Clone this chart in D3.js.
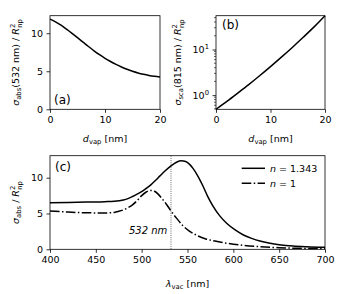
<!DOCTYPE html>
<html>
<head>
<meta charset="utf-8">
<script src="https://cdn.jsdelivr.net/npm/d3@7"></script>
<style>
  body { margin: 0; background: #fff; }
  svg { font-family: "DejaVu Sans", sans-serif; }
</style>
</head>
<body>
<div id="chart-area"></div>
<script>
// panel (a): absorption at 532 nm vs vapour layer thickness
var dA = [0, 1, 2, 3, 4, 5, 6, 7, 8, 9, 10, 11, 12, 13, 14, 15, 16, 17, 18, 19, 20];
var absA = [11.85, 11.5, 11.05, 10.53, 9.98, 9.41, 8.83, 8.25, 7.69, 7.17, 6.7, 6.28, 5.9, 5.56, 5.26, 5.0, 4.78, 4.6, 4.45, 4.33, 4.23];

// panel (b): scattering at 815 nm (log)
var dB = [0, 2, 4, 6, 8, 10, 12, 14, 16, 18, 20];
var scaB = [0.49, 0.73, 1.11, 1.7, 2.66, 4.22, 6.8, 11.1, 18.5, 31.3, 55];

// panel (c): spectra
var lamSolid = [400, 420, 440, 460, 470, 480, 485, 490, 495, 500, 505, 510, 515, 520, 526, 532, 538, 543, 548, 552, 556, 561, 567, 572, 578, 585, 593, 602, 611, 620, 629, 640, 650, 665, 680, 700];
var absSolid = [6.5, 6.55, 6.6, 6.65, 6.7, 6.88, 7.08, 7.37, 7.7, 8.05, 8.5, 9.0, 9.6, 10.25, 11.0, 11.65, 12.15, 12.35, 12.25, 11.9, 11.3, 10.3, 8.8, 7.4, 6.0, 4.7, 3.6, 2.7, 2.0, 1.52, 1.15, 0.85, 0.65, 0.45, 0.35, 0.28];
var lamDash = [400, 420, 440, 460, 470, 475, 480, 485, 490, 495, 500, 505, 510, 514, 518, 522, 527, 532, 538, 545, 552, 560, 570, 580, 593, 611, 629, 650, 665, 680, 700];
var absDash = [5.36, 5.2, 5.1, 5.07, 5.15, 5.3, 5.5, 5.8, 6.2, 6.8, 7.5, 8.0, 8.22, 8.1, 7.7, 7.1, 6.3, 5.35, 4.35, 3.3, 2.55, 1.95, 1.45, 1.15, 0.85, 0.55, 0.36, 0.22, 0.16, 0.12, 0.1];

var legendLabels = ["1.343", "1"];

var fs = 9.5;

var svg = d3.select("#chart-area")
    .append("svg")
    .attr("width", 343)
    .attr("height", 294);

function drawAxes(g, x, y, w, h, xTicks, yTicks, yFmt) {
    var xa = g.append("g")
        .attr("transform", `translate(0, ${h})`)
        .call(d3.axisBottom(x).tickValues(xTicks).tickSize(3.5).tickPadding(3.5).tickFormat(d3.format("d")));
    var ya = g.append("g")
        .call(d3.axisLeft(y).tickValues(yTicks).tickSize(3.5).tickPadding(3.5).tickFormat(yFmt || d3.format("d")));
    [xa, ya].forEach(a => {
        a.select(".domain").remove();
        a.selectAll("line").attr("stroke", "#000").attr("stroke-width", 0.8);
        a.selectAll("text").attr("font-size", fs + "px").attr("fill", "#000")
            .attr("font-family", "DejaVu Sans");
    });
    g.append("rect")
        .attr("width", w)
        .attr("height", h)
        .attr("fill", "none")
        .attr("stroke", "#000")
        .attr("stroke-width", 0.8);
    return { xa: xa, ya: ya };
}

function xLabel(g, cx, cy, sym, sub) {
    var t = g.append("text")
        .attr("x", cx).attr("y", cy)
        .attr("text-anchor", "middle")
        .attr("font-size", fs + "px");
    t.append("tspan").attr("font-style", "italic").text(sym);
    t.append("tspan").attr("font-size", "6.8px").attr("dy", 2).text(sub);
    t.append("tspan").attr("dy", -2).text(" [nm]");
}

function yLabel(g, cx, cy, sub, mid) {
    var t = g.append("text")
        .attr("transform", `translate(${cx}, ${cy}) rotate(-90)`)
        .attr("text-anchor", "middle")
        .attr("font-size", fs + "px");
    t.append("tspan").attr("font-style", "italic").text("σ");
    t.append("tspan").attr("font-size", "6.8px").attr("dy", 2).text(sub);
    t.append("tspan").attr("dy", -2).text(mid + " / ");
    t.append("tspan").attr("font-style", "italic").text("R");
    t.append("tspan").attr("font-size", "6.8px").attr("dy", -4).text("2");
    t.append("tspan").attr("font-size", "6.8px").attr("dx", -4).attr("dy", 6.5).text("np");
}

function panelTag(g, x, y, s) {
    g.append("text").attr("x", x).attr("y", y)
        .attr("font-size", "12px").text(s);
}

// ---- panel (a)
var wA = 110, hA = 93.6;
var gA = svg.append("g").attr("transform", "translate(50, 15.7)");
var xA = d3.scaleLinear().domain([0, 20]).range([0, wA]);
var yAs = d3.scaleLinear().domain([0, 12.3]).range([hA, 0]);
drawAxes(gA, xA, yAs, wA, hA, [0, 10, 20], [0, 5, 10]);
gA.append("path")
    .datum(dA.map((d, i) => [d, absA[i]]))
    .attr("fill", "none").attr("stroke", "#000").attr("stroke-width", 1.5)
    .attr("d", d3.line().x(d => xA(d[0])).y(d => yAs(d[1])).curve(d3.curveMonotoneX));
panelTag(gA, 4, 88, "(a)");
xLabel(gA, wA / 2, 126, "d", "vap");
yLabel(gA, -31, hA / 2, "abs", "(532 nm)");

// ---- panel (b)
var wB = 109, hB = 93.6;
var gB = svg.append("g").attr("transform", "translate(216, 15.7)");
var xB = d3.scaleLinear().domain([0, 20]).range([0, wB]);
var yB = d3.scaleLog().domain([0.49, 55]).range([hB, 0]);
var axB = drawAxes(gB, xB, yB, wB, hB, [0, 10, 20], [1, 10], () => "");
axB.ya.selectAll(".tick text").each(function(d) {
    var t = d3.select(this);
    t.text("10");
    t.append("tspan").attr("font-size", "6.8px").attr("dy", -4).text(Math.round(Math.log10(d)));
});
var minor = [0.5, 0.6, 0.7, 0.8, 0.9, 2, 3, 4, 5, 6, 7, 8, 9, 20, 30, 40, 50];
gB.selectAll(".minor")
    .data(minor)
    .enter().append("line")
    .attr("class", "minor")
    .attr("x1", -2).attr("x2", 0)
    .attr("y1", d => yB(d)).attr("y2", d => yB(d))
    .attr("stroke", "#000").attr("stroke-width", 0.6);
gB.append("path")
    .datum(dB.map((d, i) => [d, scaB[i]]))
    .attr("fill", "none").attr("stroke", "#000").attr("stroke-width", 1.5)
    .attr("d", d3.line().x(d => xB(d[0])).y(d => yB(d[1])).curve(d3.curveMonotoneX));
panelTag(gB, 6, 13, "(b)");
xLabel(gB, wB / 2, 126, "d", "vap");
yLabel(gB, -35, hB / 2, "sca", "(815 nm)");

// ---- panel (c)
var wC = 275, hC = 93.6;
var gC = svg.append("g").attr("transform", "translate(50, 155.7)");
var xC = d3.scaleLinear().domain([400, 700]).range([0, wC]);
var yC = d3.scaleLinear().domain([0, 13.07]).range([hC, 0]);
drawAxes(gC, xC, yC, wC, hC, [400, 450, 500, 550, 600, 650, 700], [0, 5, 10]);

gC.append("line")
    .attr("x1", xC(532)).attr("x2", xC(532))
    .attr("y1", 0).attr("y2", hC)
    .attr("stroke", "#000").attr("stroke-width", 0.6)
    .attr("stroke-dasharray", "1,1.2");
gC.append("text")
    .attr("x", xC(528)).attr("y", 78)
    .attr("text-anchor", "end")
    .attr("font-size", "10px")
    .attr("font-style", "italic")
    .text("532 nm");

var lineC = d3.line().x(d => xC(d[0])).y(d => yC(d[1])).curve(d3.curveMonotoneX);
gC.append("path")
    .datum(lamSolid.map((d, i) => [d, absSolid[i]]))
    .attr("fill", "none").attr("stroke", "#000").attr("stroke-width", 1.5)
    .attr("d", lineC);
gC.append("path")
    .datum(lamDash.map((d, i) => [d, absDash[i]]))
    .attr("fill", "none").attr("stroke", "#000").attr("stroke-width", 1.5)
    .attr("stroke-dasharray", "9.6,2.4,1.5,2.4")
    .attr("d", lineC);
panelTag(gC, 5, 15, "(c)");
xLabel(gC, wC / 2, 131, "λ", "vac");
yLabel(gC, -31, hC / 2, "abs", "");

// legend
var leg = gC.append("g").attr("transform", "translate(191.7, 12.6)");
legendLabels.forEach((lab, i) => {
    leg.append("line")
        .attr("x1", 0).attr("x2", 23.3)
        .attr("y1", i * 15).attr("y2", i * 15)
        .attr("stroke", "#000").attr("stroke-width", 1.5)
        .attr("stroke-dasharray", i === 0 ? null : "9.6,2.4,1.5,2.4");
    var t = leg.append("text")
        .attr("x", 28.3).attr("y", i * 15 + 3.5)
        .attr("font-size", fs + "px");
    t.append("tspan").attr("font-style", "italic").text("n");
    t.append("tspan").text(" = " + lab);
});
</script>
</body>
</html>
